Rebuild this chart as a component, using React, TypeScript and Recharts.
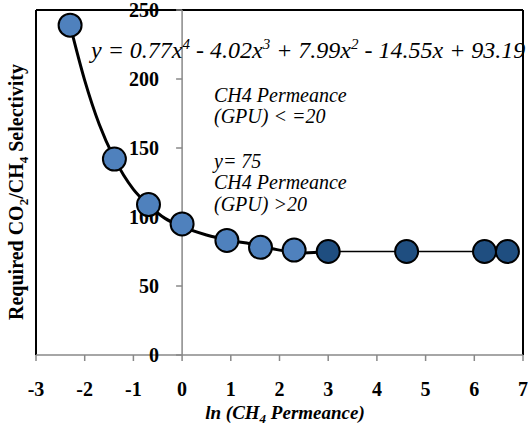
import React from "react";
import {
  ComposedChart,
  Line,
  ReferenceLine,
  Scatter,
  XAxis,
  YAxis
} from "recharts";

// measured points, ln(CH4 permeance) vs required selectivity
const lowPerm = [
  { x: -2.3, y: 239 },
  { x: -1.39, y: 142 },
  { x: -0.69, y: 109 },
  { x: 0, y: 95 },
  { x: 0.92, y: 83 },
  { x: 1.61, y: 78 },
  { x: 2.3, y: 76 }
];
const highPerm = [
  { x: 3.0, y: 75 },
  { x: 4.61, y: 75 },
  { x: 6.21, y: 75 },
  { x: 6.68, y: 75 }
];
// trendline
const trendCurve = [
  { x: -2.3, y: 239 },
  { x: -2.0, y: 199 },
  { x: -1.7, y: 167 },
  { x: -1.4, y: 143 },
  { x: -1.0, y: 120 },
  { x: -0.7, y: 109 },
  { x: -0.35, y: 99 },
  { x: 0, y: 93 },
  { x: 0.5, y: 87 },
  { x: 1.0, y: 83 },
  { x: 1.5, y: 80 },
  { x: 2.0, y: 76 },
  { x: 2.5, y: 74 },
  { x: 3.0, y: 75 }
];
const flatLine = [
  { x: 3.0, y: 75 },
  { x: 6.68, y: 75 }
];
const xTicks = [-3, -2, -1, 0, 1, 2, 3, 4, 5, 6, 7];
const yTicks = [0, 50, 100, 150, 200, 250];

const serif = "'Liberation Serif', 'Times New Roman', 'DejaVu Serif', serif";
const boldSerif = { fontFamily: serif, fontWeight: 700 } as React.CSSProperties;

const dot = (fill: string) => (props: any) => {
  const { cx, cy } = props;
  return <circle cx={cx} cy={cy} r={11.5} fill={fill} stroke="#000" strokeWidth={2} />;
};

// y axis sits at x = 0, so ticks are drawn as a scatter on that line
const YTick = (props: any) => {
  const { cx, cy, payload } = props;
  return (
    <g>
      <line x1={cx - 6} y1={cy} x2={cx} y2={cy} stroke="#888" strokeWidth={1.5} />
      <text
        x={cx - 23}
        y={cy + 7}
        textAnchor="end"
        style={{ ...boldSerif, fontSize: 20 }}
        fill="#000"
      >
        {payload.y}
      </text>
    </g>
  );
};

const XTick = (props: any) => {
  const { x, y, payload } = props;
  return (
    <text x={x} y={y + 15} textAnchor="middle" style={{ ...boldSerif, fontSize: 20 }} fill="#000">
      {payload.value}
    </text>
  );
};

export default function App() {
  return (
    <div style={{ position: "absolute", left: 0, top: 0, width: 528, height: 427, background: "#fff" }}>
      <ComposedChart
        width={528}
        height={427}
        margin={{ top: 10, right: 5, left: 36, bottom: 0 }}
      >
        <XAxis
          dataKey="x"
          type="number"
          domain={[-3, 7]}
          ticks={xTicks}
          height={72}
          stroke="#888"
          strokeWidth={1.5}
          tickSize={6}
          tickMargin={20}
          tick={XTick}
        />
        <YAxis dataKey="y" type="number" domain={[0, 250]} hide />
        <ReferenceLine x={-3} stroke="#000" strokeWidth={2} />
        <ReferenceLine y={250} stroke="#000" strokeWidth={2} />
        <ReferenceLine x={7} stroke="#000" strokeWidth={2} />
        <ReferenceLine x={0} stroke="#888" strokeWidth={1.5} />
        <Scatter
          data={yTicks.map((v) => ({ x: 0, y: v }))}
          dataKey="y"
          shape={YTick}
          isAnimationActive={false}
        />
        <Scatter data={lowPerm} dataKey="y" shape={dot("#4F81BD")} isAnimationActive={false} />
        <Scatter data={highPerm} dataKey="y" shape={dot("#1F4E80")} isAnimationActive={false} />
        <Line
          data={trendCurve}
          dataKey="y"
          type="monotone"
          stroke="#000"
          strokeWidth={3}
          dot={false}
          isAnimationActive={false}
        />
        <Line
          data={flatLine}
          dataKey="y"
          type="linear"
          stroke="#000"
          strokeWidth={1.5}
          dot={false}
          isAnimationActive={false}
        />
      </ComposedChart>
      <svg
        width={528}
        height={427}
        style={{ position: "absolute", left: 0, top: 0, pointerEvents: "none", fontFamily: serif }}
      >
        <text x={91} y={58} style={{ fontFamily: serif, fontSize: 24, fontStyle: "italic" }} fill="#000">
          y = 0.77x<tspan dy={-9} fontSize={15}>4</tspan>
          <tspan dy={9}> - 4.02x</tspan>
          <tspan dy={-9} fontSize={15}>3</tspan>
          <tspan dy={9}> + 7.99x</tspan>
          <tspan dy={-9} fontSize={15}>2</tspan>
          <tspan dy={9}> - 14.55x + 93.19</tspan>
        </text>
        <g style={{ fontFamily: serif, fontSize: 20, fontStyle: "italic" }} fill="#000">
          <text x={214} y={102}>CH4 Permeance</text>
          <text x={214} y={123}>(GPU) &lt; =20</text>
          <text x={214} y={168}>y= 75</text>
          <text x={214} y={189}>CH4 Permeance</text>
          <text x={214} y={211}>(GPU) &gt;20</text>
        </g>
        <text
          x={285}
          y={419}
          textAnchor="middle"
          style={{ ...boldSerif, fontSize: 19, fontStyle: "italic" }}
          fill="#000"
        >
          ln (CH<tspan dy={4} fontSize={13}>4</tspan>
          <tspan dy={-4}> Permeance)</tspan>
        </text>
        <text
          transform="translate(23, 192) rotate(-90)"
          textAnchor="middle"
          style={{ ...boldSerif, fontSize: 20 }}
          fill="#000"
        >
          Required CO<tspan dy={5} fontSize={13}>2</tspan>
          <tspan dy={-5}>/CH</tspan>
          <tspan dy={5} fontSize={13}>4</tspan>
          <tspan dy={-5}> Selectivity</tspan>
        </text>
      </svg>
    </div>
  );
}
